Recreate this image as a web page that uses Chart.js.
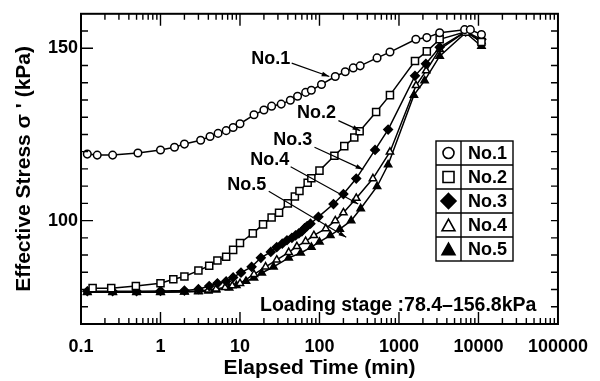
<!DOCTYPE html>
<html>
<head>
<meta charset="utf-8">
<script src="https://cdn.jsdelivr.net/npm/chart.js@4/dist/chart.umd.min.js"></script>
<style>
  html, body { margin: 0; padding: 0; background: #fff; }
  canvas { display: block; }
</style>
</head>
<body>
<canvas id="stressChart" width="600" height="381"></canvas>
<script>
// elapsed time (min) and effective stress (kPa)
const timeNo1 = [0.12, 0.16, 0.25, 0.52, 1, 1.5, 2, 3.2, 4.2, 5.3, 6.7, 8.2, 10, 15, 20, 25, 33, 43, 53, 67, 79, 106, 158, 211, 266, 325, 530, 770, 1630, 2240, 3250, 6700, 7900, 10900];
const stressNo1 = [119.3, 119.0, 119.0, 119.6, 120.5, 121.3, 122.2, 123.3, 124.4, 125.3, 126.1, 127.0, 128.1, 130.7, 132.1, 133.2, 133.8, 134.9, 136.1, 137.2, 137.8, 139.5, 141.8, 143.2, 144.3, 144.9, 147.2, 148.9, 152.6, 153.1, 154.5, 155.4, 155.4, 154.0];

const timeNo2 = [0.14, 0.24, 0.49, 1, 1.45, 2, 3, 4.1, 5.2, 6.7, 8.2, 10, 14.5, 19.5, 25, 31, 40, 49, 56, 71, 79, 100, 154, 205, 274, 320, 516, 770, 1590, 2240, 3250, 6900, 10900];
const stressNo2 = [80.4, 80.4, 81.0, 81.8, 83.0, 83.8, 85.5, 86.9, 88.4, 89.5, 91.5, 93.5, 96.3, 98.9, 100.9, 102.3, 105.0, 107.0, 108.6, 111.0, 112.3, 114.5, 118.8, 121.6, 124.1, 125.9, 131.5, 136.4, 146.3, 149.1, 152.6, 154.8, 151.8];

const timeNo3 = [0.12, 0.25, 0.5, 1, 2, 3, 4.1, 5.2, 6.7, 8.2, 10.3, 14, 18.3, 24.4, 29, 34, 39, 45, 50, 55, 60, 65, 70, 77, 97, 150, 200, 290, 500, 730, 1590, 2180, 3250, 6900, 10900];
const stressNo3 = [79.5, 79.5, 79.5, 79.6, 79.7, 80.1, 81.0, 81.8, 82.4, 83.5, 84.9, 86.6, 89.2, 90.9, 92.3, 93.3, 94.3, 95.0, 95.7, 96.3, 96.9, 97.8, 98.4, 99.1, 101.1, 104.8, 107.7, 112.2, 120.5, 126.4, 142.0, 145.5, 150.3, 154.8, 152.6];

const timeNo4 = [0.12, 0.25, 0.5, 1, 2, 3, 4, 5, 6.5, 8, 10, 15, 21, 29, 41, 52, 67, 85, 120, 158, 200, 290, 470, 770, 1640, 2200, 3250, 6900, 10900];
const stressNo4 = [79.3, 79.3, 79.3, 79.3, 79.4, 79.6, 79.9, 80.2, 80.6, 81.1, 81.8, 84.4, 86.6, 88.6, 90.8, 92.5, 94.0, 95.7, 97.7, 100.0, 102.3, 106.5, 112.2, 119.9, 139.2, 143.5, 149.7, 154.8, 152.0];

const timeNo5 = [0.12, 0.25, 0.5, 1, 2, 3, 4, 5, 7.3, 9, 11.9, 15, 18.8, 26.4, 41, 58, 79, 100, 137, 180, 250, 330, 530, 730, 1540, 2100, 3250, 6900, 10900];
const stressNo5 = [79.2, 79.2, 79.2, 79.2, 79.3, 79.4, 79.6, 79.9, 80.5, 81.2, 82.4, 83.4, 84.8, 86.6, 89.2, 90.6, 92.3, 93.8, 95.7, 97.5, 100.0, 103.5, 109.9, 116.2, 136.4, 140.6, 147.7, 154.5, 150.6];

const seriesNames = ['No.1', 'No.2', 'No.3', 'No.4', 'No.5'];
const xTickValues = [0.1, 1, 10, 100, 1000, 10000, 100000];
const yTickValues = [100, 150];

// callouts: label centre, arrow start, arrow tip (time, stress)
const calloutLabel = [[24.4, 146.9], [91.7, 131.3], [46, 123.4], [23.7, 117.5], [12.2, 110.4]];
const calloutFrom = [[44.7, 145.7], [173, 129.0], [86.6, 121.3], [43.4, 115.6], [23, 108.5]];
const calloutTo = [[133, 141.8], [325, 126.1], [355, 114.8], [307, 104.8], [217, 95.2]];

const FONT = "'Liberation Sans', Arial, sans-serif";

function pts(t, s) {
  return t.map((v, i) => ({x: v, y: s[i]}));
}

const styles = [
  {pointStyle: 'circle', r: 3.8, fill: '#fff'},
  {pointStyle: 'rect', r: 5, fill: '#fff'},
  {pointStyle: 'rectRot', r: 4.3, fill: '#000'},
  {pointStyle: 'triangle', r: 4.2, fill: '#fff'},
  {pointStyle: 'triangle', r: 4.2, fill: '#000'}
];
const allData = [pts(timeNo1, stressNo1), pts(timeNo2, stressNo2), pts(timeNo3, stressNo3), pts(timeNo4, stressNo4), pts(timeNo5, stressNo5)];

function marker(ctx, style, x, y, r, fill) {
  ctx.beginPath();
  if (style === 'circle') {
    ctx.arc(x, y, r, 0, Math.PI * 2);
  } else if (style === 'rect') {
    ctx.rect(x - r, y - r, 2 * r, 2 * r);
  } else if (style === 'rectRot') {
    ctx.moveTo(x, y - r); ctx.lineTo(x + r, y); ctx.lineTo(x, y + r); ctx.lineTo(x - r, y); ctx.closePath();
  } else {
    ctx.moveTo(x, y - r); ctx.lineTo(x + r * 0.95, y + r * 0.7); ctx.lineTo(x - r * 0.95, y + r * 0.7); ctx.closePath();
  }
  ctx.fillStyle = fill;
  ctx.fill();
  ctx.stroke();
}

const framePlugin = {
  id: 'frame',
  afterDraw(chart) {
    const ctx = chart.ctx;
    const {left, right, top, bottom} = chart.chartArea;
    const xs = chart.scales.x, ys = chart.scales.y;
    ctx.save();
    ctx.strokeStyle = '#000';
    ctx.lineWidth = 2;
    ctx.strokeRect(left, top, right - left, bottom - top);

    // inward ticks on all four sides
    ctx.lineWidth = 1.4;
    ctx.beginPath();
    for (let e = -1; e < 5; e++) {
      for (let m = 1; m < 10; m++) {
        const px = xs.getPixelForValue(m * Math.pow(10, e));
        const len = m === 1 ? 12 : 6;
        ctx.moveTo(px, bottom); ctx.lineTo(px, bottom - len);
        ctx.moveTo(px, top); ctx.lineTo(px, top + len);
      }
    }
    for (let v = 75; v < 160; v += 5) {
      const py = ys.getPixelForValue(v);
      const len = v % 50 === 0 ? 12 : 7;
      ctx.moveTo(left, py); ctx.lineTo(left + len, py);
      ctx.moveTo(right, py); ctx.lineTo(right - 7, py);
    }
    ctx.stroke();

    // callouts
    ctx.font = 'bold 18px ' + FONT;
    ctx.fillStyle = '#000';
    ctx.textAlign = 'center';
    ctx.textBaseline = 'middle';
    ctx.lineWidth = 1.2;
    seriesNames.forEach((name, i) => {
      const lx = xs.getPixelForValue(calloutLabel[i][0]);
      const ly = ys.getPixelForValue(calloutLabel[i][1]);
      ctx.fillText(name, lx, ly);
      const x0 = xs.getPixelForValue(calloutFrom[i][0]), y0 = ys.getPixelForValue(calloutFrom[i][1]);
      const x1 = xs.getPixelForValue(calloutTo[i][0]), y1 = ys.getPixelForValue(calloutTo[i][1]);
      ctx.beginPath();
      ctx.moveTo(x0, y0); ctx.lineTo(x1, y1);
      ctx.stroke();
      const a = Math.atan2(y1 - y0, x1 - x0);
      ctx.beginPath();
      ctx.moveTo(x1, y1);
      ctx.lineTo(x1 - 8 * Math.cos(a - 0.3), y1 - 8 * Math.sin(a - 0.3));
      ctx.lineTo(x1 - 8 * Math.cos(a + 0.3), y1 - 8 * Math.sin(a + 0.3));
      ctx.closePath();
      ctx.fill();
    });

    // legend table
    const lx = 436, ly = 141, rowH = 24, colW = 25, w = 77;
    ctx.lineWidth = 1.4;
    ctx.strokeRect(lx, ly, w, rowH * 5);
    ctx.beginPath();
    ctx.moveTo(lx + colW, ly); ctx.lineTo(lx + colW, ly + rowH * 5);
    for (let i = 1; i < 5; i++) {
      ctx.moveTo(lx, ly + rowH * i); ctx.lineTo(lx + w, ly + rowH * i);
    }
    ctx.stroke();
    const legendSize = [5.5, 5.5, 7.5, 6.8, 6.8];
    ctx.textAlign = 'left';
    seriesNames.forEach((name, i) => {
      const cy = ly + rowH * i + rowH / 2;
      ctx.lineWidth = 1.6;
      marker(ctx, styles[i].pointStyle, lx + colW / 2, cy + (i > 2 ? 1 : 0), legendSize[i], styles[i].fill);
      ctx.fillStyle = '#000';
      ctx.fillText(name, lx + colW + 7, cy + 1);
    });

    // loading stage note
    ctx.font = 'bold 19.5px ' + FONT;
    ctx.textBaseline = 'alphabetic';
    ctx.fillText('Loading stage :78.4\u2013156.8kPa', left + 179, bottom - 13);
    ctx.restore();
  }
};

const ctx = document.getElementById('stressChart');
const chart = new Chart(ctx, {
  type: 'scatter',
  data: {
    datasets: seriesNames.map((name, i) => ({
      label: name,
      data: allData[i],
      showLine: true,
      borderColor: '#000',
      borderWidth: 1.5,
      pointStyle: styles[i].pointStyle,
      pointRadius: styles[i].r,
      pointBackgroundColor: styles[i].fill,
      pointBorderColor: '#000',
      pointBorderWidth: 1.5
    }))
  },
  options: {
    responsive: false,
    animation: false,
    devicePixelRatio: 1,
    layout: {padding: {top: 9, right: 41, left: 0, bottom: 0}},
    plugins: {
      legend: {display: false},
      tooltip: {enabled: false}
    },
    scales: {
      x: {
        type: 'logarithmic',
        min: 0.1,
        max: 100000,
        grid: {display: false, drawTicks: false},
        border: {display: false},
        afterBuildTicks: (scale) => { scale.ticks = xTickValues.map(v => ({value: v})); },
        afterFit: (scale) => { scale.height = 57; },
        ticks: {
          color: '#000',
          padding: 12,
          maxRotation: 0,
          font: {family: FONT, size: 18, weight: 'bold'},
          callback: (v) => String(v)
        },
        title: {
          display: true,
          text: 'Elapsed Time (min)',
          color: '#000',
          padding: {top: 0, bottom: 0},
          font: {family: FONT, size: 21, weight: 'bold'}
        }
      },
      y: {
        min: 70,
        max: 160,
        grid: {display: false, drawTicks: false},
        border: {display: false},
        afterBuildTicks: (scale) => { scale.ticks = yTickValues.map(v => ({value: v})); },
        afterFit: (scale) => { scale.width = 81; },
        ticks: {
          color: '#000',
          padding: 3,
          font: {family: FONT, size: 18, weight: 'bold'}
        },
        title: {
          display: true,
          text: "Effective Stress \u03c3 ' (kPa)",
          color: '#000',
          padding: {top: 12, bottom: 0},
          font: {family: FONT, size: 21, weight: 'bold'}
        }
      }
    }
  },
  plugins: [framePlugin]
});
</script>
</body>
</html>
